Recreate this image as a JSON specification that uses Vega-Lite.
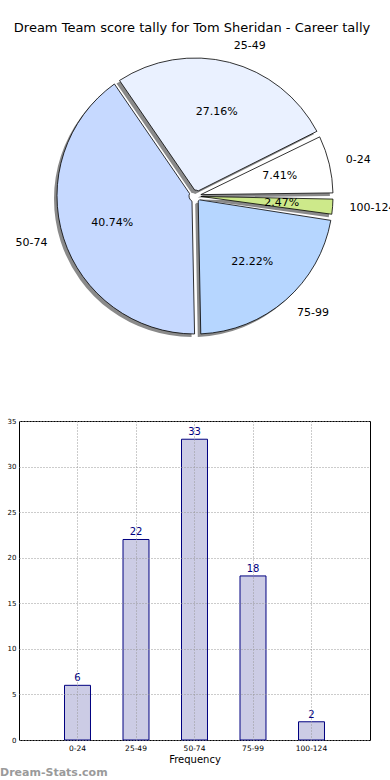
{
  "$schema": "https://vega.github.io/schema/vega-lite/v6.json",
  "autosize": {"type": "pad"},
  "padding": {"left": -12, "top": 21, "right": 0, "bottom": 0},
  "bounds": "flush",
  "spacing": 72,
  "title": {"text": "Dream Team score tally for Tom Sheridan - Career tally", "fontSize": 13, "fontWeight": "normal", "font": "DejaVu Sans", "anchor": "middle", "offset": 5, "color": "#000"},
  "config": {"view": {"stroke": null}, "font": "DejaVu Sans"},
  "datasets": {
    "tally": [
      {"range": "0-24", "idx": 1, "count": 6, "pct": "7.41%"},
      {"range": "25-49", "idx": 2, "count": 22, "pct": "27.16%"},
      {"range": "50-74", "idx": 3, "count": 33, "pct": "40.74%"},
      {"range": "75-99", "idx": 4, "count": 18, "pct": "22.22%"},
      {"range": "100-124", "idx": 5, "count": 2, "pct": "2.47%"}
    ]
  },
  "vconcat": [
    {
      "width": 352,
      "height": 306,
      "data": {"name": "tally"},
      "encoding": {
        "theta": {"field": "count", "type": "quantitative", "stack": true, "scale": {"range": [1.5708, 7.854]}},
        "order": {"field": "idx", "type": "quantitative", "sort": "descending"}
      },
      "layer": [
        {"mark": {"type": "arc", "outerRadius": 138, "innerRadius": 6, "padAngle": 0.045, "x": {"expr": "concat_0_width/2-3"}, "y": {"expr": "concat_0_height/2+3"}, "fill": "#8a8a8a"}},
        {"mark": {"type": "arc", "outerRadius": 138, "innerRadius": 6, "padAngle": 0.045, "stroke": "#000", "strokeWidth": 0.8},
         "encoding": {"color": {"field": "range", "type": "nominal", "legend": null,
           "scale": {"domain": ["0-24", "25-49", "50-74", "75-99", "100-124"], "range": ["#ffffff", "#eaf1ff", "#c6d9ff", "#b6d6ff", "#cde98a"]}}}},
        {"mark": {"type": "text", "radius": 87, "fontSize": 11, "color": "#000"}, "encoding": {"text": {"field": "pct"}}},
        {"mark": {"type": "text", "radius": 155, "fontSize": 11, "color": "#000", "align": {"expr": "datum.range === '50-74' ? 'right' : 'left'"}}, "encoding": {"text": {"field": "range"}}}
      ]
    },
    {
      "width": 351,
      "height": 319,
      "view": {"stroke": "#000", "strokeWidth": 1},
      "data": {"name": "tally"},
      "title": {"text": "Dream-Stats.com", "orient": "bottom", "anchor": "start", "frame": "group", "dx": -19, "fontSize": 11, "fontWeight": "bold", "color": "#9a9a9a", "offset": 2},
      "encoding": {
        "x": {"field": "range", "type": "nominal", "sort": ["0-24", "25-49", "50-74", "75-99", "100-124"],
          "scale": {"paddingInner": 0.556, "paddingOuter": 0.778},
          "axis": {"title": "Frequency", "labelAngle": 0, "labelFontSize": 7.5, "labelColor": "#000", "grid": true, "gridDash": [1, 2], "gridColor": "#999", "ticks": false, "domain": false, "bandPosition": 0.5, "labelPadding": 4, "titleFontSize": 10, "titleFontWeight": "normal", "titlePadding": 3, "titleColor": "#000", "zindex": 1}},
        "y": {"field": "count", "type": "quantitative", "scale": {"domain": [0, 35]},
          "axis": {"title": "Score Tally", "values": [0, 5, 10, 15, 20, 25, 30, 35], "labelFontSize": 7, "labelColor": "#000", "labelFlush": false, "grid": true, "gridDash": [1, 2], "gridColor": "#999", "ticks": false, "domain": false, "labelPadding": 3, "titleFontSize": 10, "titleFontWeight": "normal", "titlePadding": 8, "titleColor": "#000", "zindex": 1}}
      },
      "layer": [
        {"mark": {"type": "bar", "fill": "#ccccE5", "stroke": "#000080", "strokeWidth": 1}},
        {"mark": {"type": "text", "dy": -7, "fontSize": 10, "color": "#000080"}, "encoding": {"text": {"field": "count"}}}
      ]
    }
  ]
}
